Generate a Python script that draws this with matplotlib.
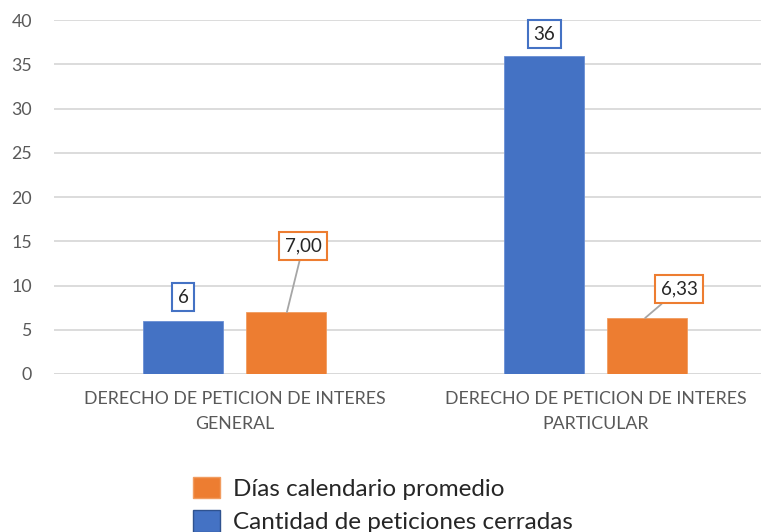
import matplotlib.pyplot as plt
import numpy as np
from matplotlib.patches import Patch

plt.rcParams['font.family'] = ['Lato', 'DejaVu Sans']

categories = ['DERECHO DE PETICION DE INTERES\nGENERAL',
              'DERECHO DE PETICION DE INTERES\nPARTICULAR']
cerradas = [6, 36]
dias = [7.00, 6.33]
dias_labels = ['7,00', '6,33']

blue = '#4472C4'
orange = '#ED7D31'

fig = plt.figure(figsize=(7.61, 5.32), dpi=100)
ax = fig.add_axes([0.071, 0.297, 0.929, 0.665])

x = np.arange(len(categories))
w = 0.222
off = 0.142
ax.bar(x - off, cerradas, w, color=blue, edgecolor='#6a8fd4', linewidth=0.6, zorder=3)
ax.bar(x + off, dias, w, color=orange, edgecolor='#f19c60', linewidth=0.6, zorder=3)

ax.set_xlim(-0.5, 1.458)
ax.set_ylim(0, 40)
ax.set_yticks(range(0, 41, 5))
ax.set_xticks(x)
ax.set_xticklabels(categories, fontsize=12.8, color='#595959', linespacing=1.75)
ax.tick_params(axis='y', length=0, pad=16, labelsize=12.8, labelcolor='#595959')
ax.tick_params(axis='x', length=0, pad=12)
ax.grid(axis='y', color='#D9D9D9', linewidth=1.3, zorder=0)
for s in ax.spines.values():
    s.set_visible(False)
ax.axhline(0, color='#D9D9D9', linewidth=1.3, zorder=1)

# etiquetas de datos
box_b = dict(boxstyle='square,pad=0.3', fc='white', ec=blue, lw=1.5)
box_o = dict(boxstyle='square,pad=0.3', fc='white', ec=orange, lw=1.5)
ax.annotate(str(cerradas[0]), xy=(x[0] - off, cerradas[0]), xytext=(x[0] - off, 8.7),
            ha='center', va='center', fontsize=13.5, color='#262626', bbox=box_b)
ax.annotate(str(cerradas[1]), xy=(x[1] - off, cerradas[1]), xytext=(x[1] - off, 38.4),
            ha='center', va='center', fontsize=13.5, color='#262626', bbox=box_b)
ax.annotate(dias_labels[0], xy=(x[0] + 0.145, dias[0]), xytext=(x[0] + 0.19, 14.45),
            ha='center', va='center', fontsize=13.5, color='#262626', bbox=box_o,
            arrowprops=dict(arrowstyle='-', color='#A6A6A6', lw=1.3, shrinkA=0, shrinkB=0))
ax.annotate(dias_labels[1], xy=(x[1] + 0.137, dias[1]), xytext=(x[1] + 0.231, 9.6),
            ha='center', va='center', fontsize=13.5, color='#262626', bbox=box_o,
            arrowprops=dict(arrowstyle='-', color='#A6A6A6', lw=1.3, shrinkA=0, shrinkB=0))

handles = [Patch(facecolor=orange, edgecolor='#f19c60'),
           Patch(facecolor=blue, edgecolor='#2f528f')]
fig.legend(handles, ['Días calendario promedio', 'Cantidad de peticiones cerradas'],
           loc='upper left', bbox_to_anchor=(0.2536, 0.104), frameon=False,
           fontsize=17.5, handlelength=1.1, handleheight=1.0, handletextpad=0.55,
           labelspacing=0.42, labelcolor='#262626', borderpad=0, borderaxespad=0)

fig.savefig('out.png', dpi=100)
